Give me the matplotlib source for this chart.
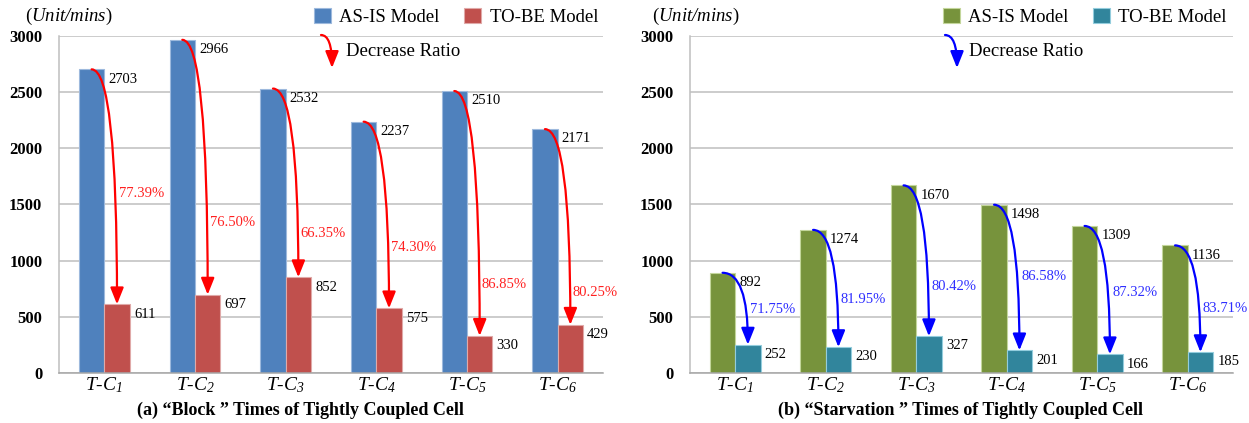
import numpy as np
import matplotlib
matplotlib.use('Agg')
import matplotlib.pyplot as plt

# data
cells = ['1', '2', '3', '4', '5', '6']
block_asis = [2703, 2966, 2532, 2237, 2510, 2171]
block_tobe = [611, 697, 852, 575, 330, 429]
block_ratio = ['77.39%', '76.50%', '66.35%', '74.30%', '86.85%', '80.25%']
starv_asis = [892, 1274, 1670, 1498, 1309, 1136]
starv_tobe = [252, 230, 327, 201, 166, 185]
starv_ratio = ['71.75%', '81.95%', '80.42%', '86.58%', '87.32%', '83.71%']

# where the ratio labels sit (y, data units) - placed by hand in the original
block_ratio_y = [1594, 1344, 1246, 1113, 792, 721]
starv_ratio_y = [561, 650, 766, 855, 721, 570]

plt.rcParams['font.family'] = ['Liberation Serif', 'DejaVu Serif']
plt.rcParams['mathtext.fontset'] = 'custom'
plt.rcParams['mathtext.it'] = 'Liberation Serif:italic'
plt.rcParams['mathtext.rm'] = 'Liberation Serif:italic'

W, H = 1249, 423
fig = plt.figure(figsize=(W / 100, H / 100), dpi=100)


def fx(px):
    return px / W


def fy(py):
    return 1 - py / H


def draw_panel(ax, asis, tobe, ratio, ratio_y, c1, c2, e1, e2, acol, tcol):
    x = np.arange(len(cells))
    w = 0.28
    ax.bar(x - w / 2, asis, w, color=c1, edgecolor=e1, linewidth=0.8, zorder=2, label='AS-IS Model')
    ax.bar(x + w / 2, tobe, w, color=c2, edgecolor=e2, linewidth=0.8, zorder=2, label='TO-BE Model')
    ax.set_xlim(-0.5, 5.5)
    ax.set_ylim(0, 3000)
    ax.set_yticks(range(0, 3001, 500))
    ax.grid(axis='y', color='#BFBFBF', linewidth=1.1, zorder=0)
    for s in ['top', 'right']:
        ax.spines[s].set_visible(False)
    ax.spines['left'].set_color('#BFBFBF')
    ax.spines['bottom'].set_color('#A6A6A6')
    ax.spines['left'].set_linewidth(1.1)
    ax.spines['bottom'].set_linewidth(1.1)
    ax.tick_params(axis='y', length=0, pad=12, labelsize=12)
    ax.tick_params(axis='x', length=0, pad=2, labelsize=14)
    for t in ax.get_yticklabels():
        t.set_fontweight('bold')
    ax.set_xticks(x)
    ax.set_xticklabels(['T-$C_{%s}$' % c for c in cells], fontstyle='italic')

    for i in range(len(cells)):
        ax.annotate(str(asis[i]), (x[i], asis[i]), xytext=(3, -7), textcoords='offset points',
                    ha='left', va='center', fontsize=10.5)
        ax.annotate(str(tobe[i]), (x[i] + w, tobe[i]), xytext=(3, -7), textcoords='offset points',
                    ha='left', va='center', fontsize=10.5)
        ax.annotate('', xy=(x[i] + w / 2, tobe[i]), xytext=(x[i] - w / 2, asis[i]),
                    arrowprops=dict(arrowstyle='-|>,head_length=1.0,head_width=0.4',
                                    connectionstyle='angle3,angleA=0,angleB=90',
                                    color=acol, lw=1.6, shrinkA=0, shrinkB=0,
                                    mutation_scale=10), zorder=4)
        ax.annotate(ratio[i], (x[i] + w / 2, ratio_y[i]), xytext=(1.5, 0), textcoords='offset points',
                    ha='left', va='center', fontsize=10.5, color=tcol, zorder=5)


ax1 = fig.add_axes([fx(59), 50 / H, 544 / W, 337 / H])
ax2 = fig.add_axes([fx(690), 50 / H, 543 / W, 337 / H])

draw_panel(ax1, block_asis, block_tobe, block_ratio, block_ratio_y,
           '#4F81BD', '#C0504D', '#9DB9DD', '#E0A9A8', '#FF0000', '#FF2020')
draw_panel(ax2, starv_asis, starv_tobe, starv_ratio, starv_ratio_y,
           '#77933C', '#31859C', '#C3D69B', '#93CDDD', '#0000FF', '#2E2EFF')

# legends
for ax, xr in [(ax1, 598), (ax2, 1227)]:
    ax.legend(loc='center right', bbox_to_anchor=(fx(xr), fy(17)), bbox_transform=fig.transFigure,
              ncol=2, frameon=False, fontsize=13.5, handlelength=0.9, handleheight=0.9,
              handletextpad=0.45, columnspacing=1.3, borderpad=0, borderaxespad=0)

# decrease ratio legend arrows
for (x0, x1, col, tx) in [(321, 332, '#FF0000', 346), (945, 957, '#0000FF', 969)]:
    fig.add_artist(plt.Annotation('', xy=(fx(x1), fy(68)), xytext=(fx(x0), fy(35)),
                                  xycoords='figure fraction', textcoords='figure fraction',
                                  arrowprops=dict(arrowstyle='-|>,head_length=1.0,head_width=0.4',
                                                  connectionstyle='angle3,angleA=0,angleB=90',
                                                  color=col, lw=1.6, shrinkA=0, shrinkB=0,
                                                  mutation_scale=10)))
    fig.text(fx(tx), fy(52), 'Decrease Ratio', fontsize=13.5, ha='left', va='center')

# unit labels
for xl in [25, 652]:
    fig.text(fx(xl), fy(16), '($\\mathit{Unit/mins}$)', fontsize=13.5, ha='left', va='center')

# panel titles
fig.text(fx(300), fy(410), '(a) \u201cBlock \u201d Times of Tightly Coupled Cell',
         fontsize=13, fontweight='bold', ha='center', va='center')
fig.text(fx(960), fy(410), '(b) \u201cStarvation \u201d Times of Tightly Coupled Cell',
         fontsize=13, fontweight='bold', ha='center', va='center')

plt.savefig('out.png', dpi=100, facecolor='white')
